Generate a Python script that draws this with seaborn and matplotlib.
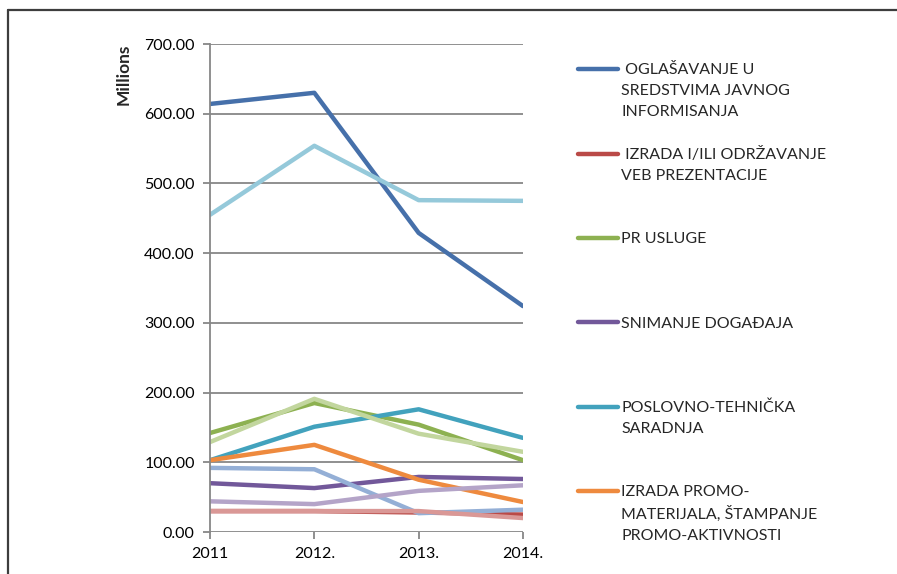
import pandas as pd
import seaborn as sns
import matplotlib.pyplot as plt
from matplotlib.lines import Line2D
from matplotlib.ticker import FormatStrFormatter

# categories on the x axis
years = ["2011", "2012.", "2013.", "2014."]

# values in millions
oglasavanje = [614, 630, 429, 324]
veb = [30, 30, 28, 25]
pr_usluge = [142, 185, 154, 103]
snimanje = [70, 63, 79, 76]
poslovno = [103, 151, 176, 135]
promo = [103, 125, 75, 43]
# further series without a visible legend entry
serija7 = [92, 90, 27, 32]
serija8 = [30, 30, 30, 20]
serija9 = [129, 191, 141, 115]
serija10 = [44, 40, 59, 67]
serija11 = [455, 554, 476, 475]

names = [" OGLAŠAVANJE U\nSREDSTVIMA JAVNOG\nINFORMISANJA",
         " IZRADA I/ILI ODRŽAVANJE\nVEB PREZENTACIJE",
         "PR USLUGE",
         "SNIMANJE DOGAĐAJA",
         "POSLOVNO-TEHNIČKA\nSARADNJA",
         "IZRADA PROMO-\nMATERIJALA, ŠTAMPANJE\nPROMO-AKTIVNOSTI",
         "serija 7", "serija 8", "serija 9", "serija 10", "serija 11"]
values = [oglasavanje, veb, pr_usluge, snimanje, poslovno, promo,
          serija7, serija8, serija9, serija10, serija11]
colors = ["#4670AA", "#BA4A47", "#8DB151", "#72589A", "#42A2BD", "#EE8A3E",
          "#94AFD6", "#DA9896", "#C2D69E", "#B4A4C8", "#95C9DA"]

rows = []
for n, v in zip(names, values):
    for y, val in zip(years, v):
        rows.append({"godina": y, "iznos": val, "serija": n})
df = pd.DataFrame(rows)

sns.set_theme(style="white")
plt.rcParams['font.family'] = ['Lato', 'DejaVu Sans']

fig = plt.figure(figsize=(8.97, 5.74), dpi=100)
ax = fig.add_axes([210 / 897, 42 / 574, 313 / 897, 488 / 574])

sns.lineplot(data=df, x="godina", y="iznos", hue="serija", hue_order=names,
             palette=dict(zip(names, colors)), linewidth=3.2, sort=False,
             legend=False, ax=ax)

ax.set_xlim(0, 3)
ax.set_ylim(0, 700)
ax.set_yticks(range(0, 701, 100))
ax.yaxis.set_major_formatter(FormatStrFormatter('%.2f'))
ax.grid(axis='y', color='#878787', linewidth=1.3)
ax.set_axisbelow(True)
for s in ['top', 'right', 'bottom']:
    ax.spines[s].set_visible(False)
ax.spines['left'].set_color('#878787')
ax.spines['left'].set_linewidth(1.3)
ax.tick_params(axis='both', which='both', direction='out', length=5, width=1.3,
               color='#878787', labelsize=11.5, labelcolor='black',
               left=True, bottom=True)
ax.tick_params(axis='y', pad=6)
ax.tick_params(axis='x', pad=6)
ax.set_xlabel('')
ax.set_ylabel('')
ax.text(-0.275, 1.0, 'Millions', transform=ax.transAxes, rotation=90,
        ha='center', va='top', fontsize=12.5, fontweight='bold')

# legend: one row per text line, the coloured line only on the first row
handles, labels = [], []
for i in range(6):
    parts = names[i].split("\n")
    handles.append(Line2D([], [], color=colors[i], linewidth=3.2))
    labels.append(parts[0])
    for p in parts[1:]:
        handles.append(Line2D([], [], color='none'))
        labels.append(p)
    if i < 5:
        for _ in range(4 - len(parts)):
            handles.append(Line2D([], [], color='none'))
            labels.append(" ")
fig.legend(handles, labels, loc='upper left',
           bbox_to_anchor=(578 / 897, 1 - 63 / 574), frameon=False,
           borderpad=0, borderaxespad=0, fontsize=11.5, handlelength=2.5,
           handletextpad=0.2, labelspacing=0.43)

# outer frame of the chart object (top and left edges only)
fig.add_artist(Line2D([8 / 897, 1.0], [1 - 10 / 574, 1 - 10 / 574],
                      transform=fig.transFigure, color='#3d3d3d', linewidth=1.6))
fig.add_artist(Line2D([8 / 897, 8 / 897], [0.0, 1 - 10 / 574],
                      transform=fig.transFigure, color='#3d3d3d', linewidth=1.6))

fig.savefig("out.png", dpi=100)
